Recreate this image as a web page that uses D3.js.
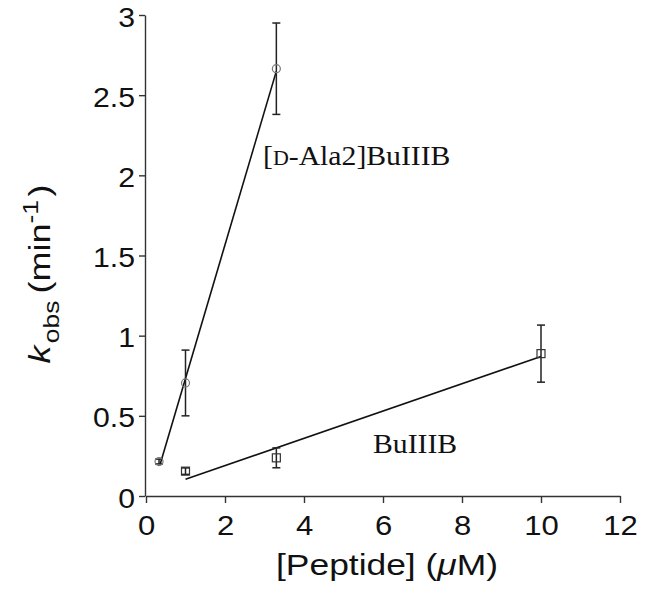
<!DOCTYPE html>
<html>
<head>
<meta charset="utf-8">
<script src="https://cdn.jsdelivr.net/npm/d3@7"></script>
<style>
  html, body { margin: 0; padding: 0; background: #fff; }
  svg { display: block; }
</style>
</head>
<body>
<svg id="chart" width="648" height="592"></svg>
<script>
// [D-Ala2]BuIIIB series (circles)
const dalaConc = [0.33, 1, 3.3];
const dalaKobs = [0.215, 0.705, 2.665];
const dalaErr  = [0.015, 0.205, 0.285];
const dalaFit  = [[0.36, 0.2], [3.3, 2.65]];

// BuIIIB series (squares)
const buConc = [1, 3.3, 10];
const buKobs = [0.155, 0.238, 0.888];
const buErr  = [0.02, 0.062, 0.178];
const buFit  = [[1, 0.105], [10, 0.87]];

const xTicks = [0, 2, 4, 6, 8, 10, 12];
const yTicks = [0, 0.5, 1, 1.5, 2, 2.5, 3];

const svg = d3.select("#chart");
const x = d3.scaleLinear().domain([0, 12]).range([146, 620]);
const y = d3.scaleLinear().domain([0, 3]).range([496, 15]);

const axisColor = "#333";
const sans = "'Liberation Sans', Arial, Helvetica, sans-serif";
const serif = "'Liberation Serif', 'Times New Roman', serif";

// x axis
const gx = svg.append("g")
  .attr("transform", `translate(0,${y(0)})`)
  .call(d3.axisBottom(x).tickValues(xTicks).tickSize(7).tickSizeOuter(0).tickFormat(d3.format("d")));
gx.select(".domain").attr("stroke", axisColor).attr("stroke-width", 1.4);
gx.selectAll(".tick line").attr("stroke", axisColor).attr("stroke-width", 1.4);
gx.selectAll(".tick text")
  .attr("font-family", sans).attr("font-size", 27).attr("fill", "#111")
  .attr("y", 0).attr("dy", 0)
  .attr("transform", "translate(0,39) scale(1.15,1)");

// y axis
const gy = svg.append("g")
  .attr("transform", `translate(${x(0) - 1},0)`)
  .call(d3.axisLeft(y).tickValues(yTicks).tickSize(6).tickSizeOuter(0).tickFormat(d => String(d)));
gy.select(".domain").attr("stroke", axisColor).attr("stroke-width", 1.4);
gy.selectAll(".tick line").attr("stroke", axisColor).attr("stroke-width", 1.4);
gy.selectAll(".tick text")
  .attr("font-family", sans).attr("font-size", 27).attr("fill", "#111")
  .attr("x", 0).attr("dy", 0)
  .attr("transform", "translate(-10,11) scale(1.12,1)");

// x axis title
svg.append("text")
  .attr("transform", "translate(387,575) scale(1.18,1)")
  .attr("text-anchor", "middle")
  .attr("font-family", sans).attr("font-size", 30).attr("fill", "#111")
  .call(t => {
    t.append("tspan").text("[Peptide] (");
    t.append("tspan").attr("font-style", "italic").text("μ");
    t.append("tspan").text("M)");
  });

// y axis title: k_obs (min^-1)
svg.append("text")
  .attr("transform", "translate(50,274) rotate(-90) scale(1.2,1)")
  .attr("text-anchor", "middle")
  .attr("font-family", sans).attr("font-size", 30).attr("fill", "#111")
  .call(t => {
    t.append("tspan").attr("font-style", "italic").text("k");
    t.append("tspan").attr("font-size", 22).attr("dy", 9).attr("dx", 2).text("obs");
    t.append("tspan").attr("dy", -9).attr("dx", 6).text("(min");
    t.append("tspan").attr("font-size", 22).attr("dy", -12).text("-1");
    t.append("tspan").attr("dy", 12).attr("dx", 3).text(")");
  });

// fitted lines
const line = d3.line().x(d => x(d[0])).y(d => y(d[1]));
[dalaFit, buFit].forEach(f => {
  svg.append("path").attr("d", line(f))
    .attr("fill", "none").attr("stroke", "#111").attr("stroke-width", 1.6);
});

// error bars
function errorBars(xs, ys, es) {
  const g = svg.append("g").attr("stroke", "#222").attr("stroke-width", 1.5);
  xs.forEach((xv, i) => {
    const cx = x(xv), top = y(ys[i] + es[i]), bot = y(ys[i] - es[i]);
    g.append("line").attr("x1", cx).attr("x2", cx).attr("y1", top).attr("y2", bot);
    g.append("line").attr("x1", cx - 4).attr("x2", cx + 4).attr("y1", top).attr("y2", top);
    g.append("line").attr("x1", cx - 4).attr("x2", cx + 4).attr("y1", bot).attr("y2", bot);
  });
}
errorBars(dalaConc, dalaKobs, dalaErr);
errorBars(buConc, buKobs, buErr);

// markers
svg.append("g").selectAll("circle")
  .data(dalaConc.map((c, i) => [c, dalaKobs[i]]))
  .join("circle")
  .attr("cx", d => x(d[0])).attr("cy", d => y(d[1])).attr("r", 4)
  .attr("fill", "none").attr("stroke", "#777").attr("stroke-width", 1.2);

svg.append("g").selectAll("rect")
  .data(buConc.map((c, i) => [c, buKobs[i]]))
  .join("rect")
  .attr("x", d => x(d[0]) - 4).attr("y", d => y(d[1]) - 4)
  .attr("width", 8).attr("height", 8)
  .attr("fill", "none").attr("stroke", "#333").attr("stroke-width", 1.2);

// series labels
svg.append("text")
  .attr("transform", "translate(263,165) scale(1.1,1)")
  .attr("font-family", serif).attr("font-size", 27).attr("fill", "#111")
  .call(t => {
    t.append("tspan").text("[");
    t.append("tspan").attr("font-size", 20).text("D");
    t.append("tspan").text("-Ala2]BuIIIB");
  });

svg.append("text")
  .attr("transform", "translate(373,453) scale(1.1,1)")
  .attr("font-family", serif).attr("font-size", 27).attr("fill", "#111")
  .text("BuIIIB");
</script>
</body>
</html>
